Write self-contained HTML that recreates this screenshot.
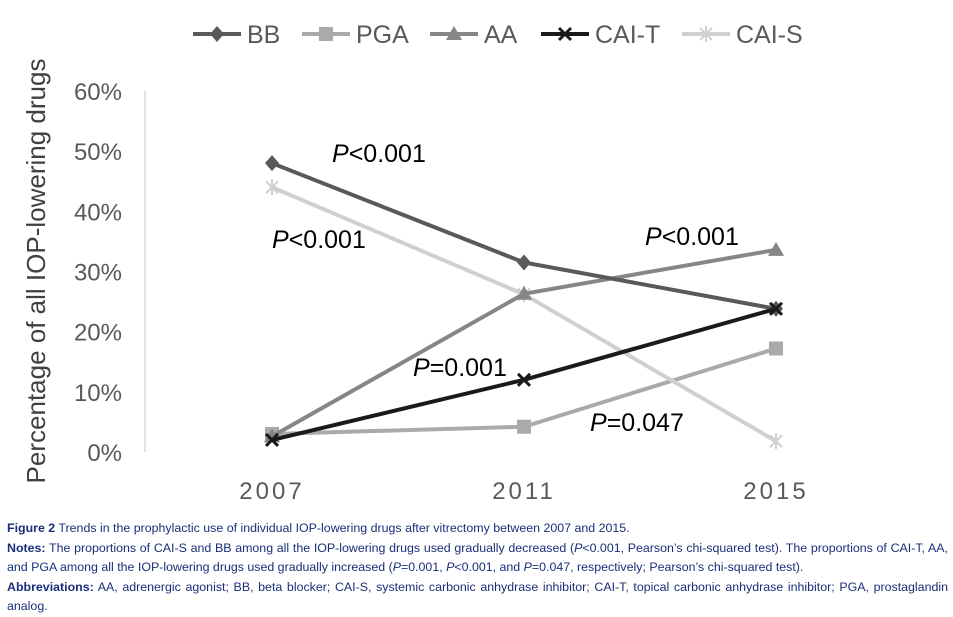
<!DOCTYPE html>
<html><head><meta charset="utf-8"><style>
body{margin:0;background:#fff;width:953px;height:617px;overflow:hidden;font-family:"Liberation Sans",sans-serif}
.cap{position:absolute;left:7px;font-size:12.4px;color:#1a2f7a;line-height:19.5px;width:941px;text-align:justify;font-family:"Liberation Sans Narrow","Liberation Sans",sans-serif}
.cap b{color:#1a2f7a}
</style></head><body>
<svg id="chart" width="953" height="515" style="position:absolute;left:0;top:0"></svg>
<div class="cap" style="top:519px">
<div><b>Figure 2</b> Trends in the prophylactic use of individual IOP-lowering drugs after vitrectomy between 2007 and 2015.</div>
<div><b>Notes:</b> The proportions of CAI-S and BB among all the IOP-lowering drugs used gradually decreased (<i>P</i>&lt;0.001, Pearson’s chi-squared test). The proportions of CAI-T, AA, and PGA among all the IOP-lowering drugs used gradually increased (<i>P</i>=0.001, <i>P</i>&lt;0.001, and <i>P</i>=0.047, respectively; Pearson’s chi-squared test).</div>
<div><b>Abbreviations:</b> AA, adrenergic agonist; BB, beta blocker; CAI-S, systemic carbonic anhydrase inhibitor; CAI-T, topical carbonic anhydrase inhibitor; PGA, prostaglandin analog.</div>
</div>
<script>
const years=["2007","2011","2015"];
const bb=[48,31.5,23.8];
const pga=[3,4.2,17.2];
const aa=[2.6,26.3,33.6];
const cait=[2,12,23.8];
const cais=[44,26.2,1.8];
const yTicks=[0,10,20,30,40,50,60];
const NS="http://www.w3.org/2000/svg";
const svg=document.getElementById('chart');
const xS=i=>272+i*252;
const yS=v=>452-v*6.017;
function mk(t,a,p){const e=document.createElementNS(NS,t);for(const k in a)e.setAttribute(k,a[k]);(p||svg).appendChild(e);return e;}
let ax=mk('line',{x1:145,y1:91,x2:145,y2:452,stroke:'#d9d9d9','stroke-width':1.5});


yTicks.forEach(v=>{const t=mk('text',{x:122,y:yS(v)+9,'text-anchor':'end','font-size':24,fill:'#595959'});t.textContent=v+'%';

});
years.forEach((y,i)=>{const t=mk('text',{x:xS(i),y:499,'text-anchor':'middle','font-size':24,fill:'#595959','letter-spacing':'3'});t.textContent=y;

});
const yt=mk('text',{transform:'translate(45,271) rotate(-90)','text-anchor':'middle','font-size':26,fill:'#404040'});yt.textContent='Percentage of all IOP-lowering drugs';


function marker(type,x,y,c,g){
 if(type==='diamond')mk('polygon',{points:`${x},${y-8} ${x+7},${y} ${x},${y+8} ${x-7},${y}`,fill:c},g);
 else if(type==='square')mk('rect',{x:x-7,y:y-7,width:14,height:14,fill:c},g);
 else if(type==='triangle')mk('polygon',{points:`${x},${y-8} ${x+8},${y+6} ${x-8},${y+6}`,fill:c},g);
 else if(type==='x'){mk('path',{d:`M${x-6} ${y-6}L${x+6} ${y+6}M${x+6} ${y-6}L${x-6} ${y+6}`,stroke:c,'stroke-width':3},g);}
 else {mk('path',{d:`M${x-6} ${y-6}L${x+6} ${y+6}M${x+6} ${y-6}L${x-6} ${y+6}M${x} ${y-8}L${x} ${y+8}`,stroke:c,'stroke-width':2},g);}
}
const series=[["BB",bb,'#595959','diamond'],["PGA",pga,'#aaaaaa','square'],["AA",aa,'#868686','triangle'],["CAI-T",cait,'#1a1a1a','x'],["CAI-S",cais,'#d0d0d0','star']];
const order=[1,4,2,0,3];
order.forEach(si=>{const [n,d,c,m]=series[si];const g=mk('g',{});


mk('polyline',{points:d.map((v,i)=>xS(i)+','+yS(v)).join(' '),fill:'none',stroke:c,'stroke-width':4},g);
d.forEach((v,i)=>marker(m,xS(i),yS(v),c,g));});
const lx=[193,302,430,541,682];
series.forEach(([n,d,c,m],i)=>{const g=mk('g',{});


mk('line',{x1:lx[i],y1:34,x2:lx[i]+48,y2:34,stroke:c,'stroke-width':4},g);marker(m,lx[i]+24,34,c,g);
const t=mk('text',{x:lx[i]+54,y:43,'font-size':25,fill:'#595959'},g);t.textContent=n;});
const ann=[[332,162,'<0.001'],[272,248,'<0.001'],[645,245,'<0.001'],[413,376,'=0.001'],[590,431,'=0.047']];
ann.forEach(([x,y,s])=>{const t=mk('text',{x:x,y:y,'font-size':25,fill:'#000'});


const a=mk('tspan',{'font-style':'italic'},t);a.textContent='P';const b=mk('tspan',{},t);b.textContent=s;});
</script>
</body></html>
